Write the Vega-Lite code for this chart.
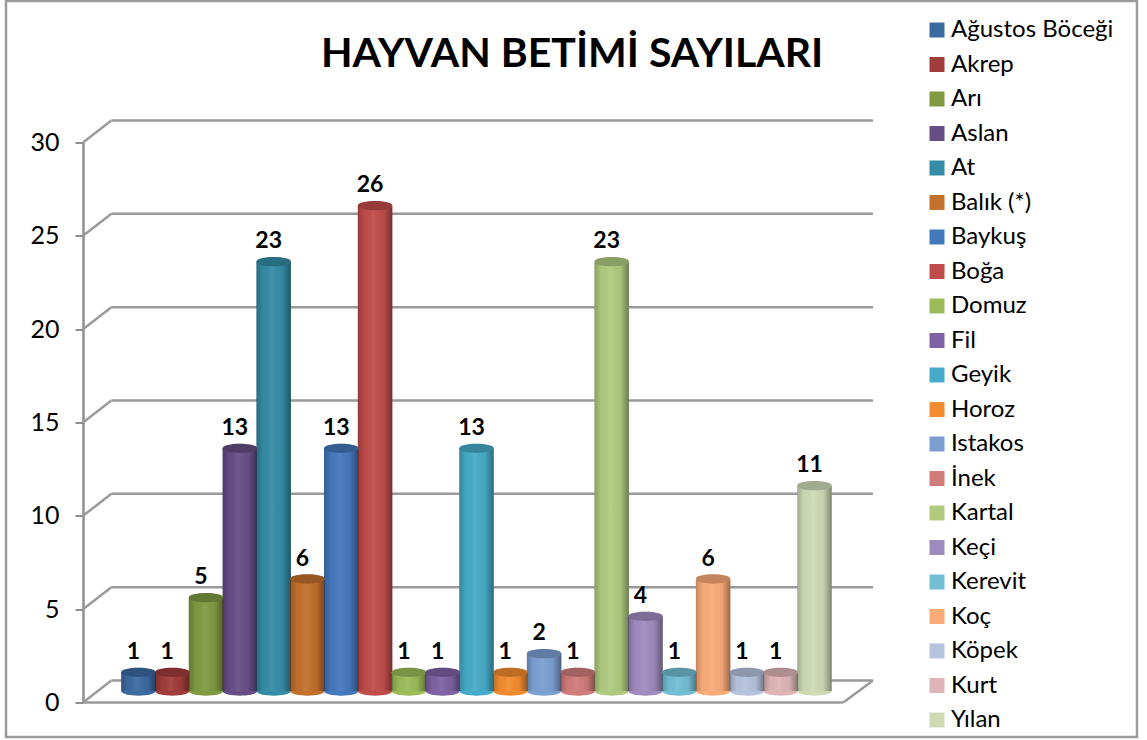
{
"$schema":"https://vega.github.io/schema/vega-lite/v6.json",
"width":790,"height":560,
"autosize":{"type":"none"},
"padding":{"left":83,"top":142.5,"right":274,"bottom":37.5},
"background":"white",
"config":{"view":{"stroke":null},"font":"Lato"},
"title":{"text":"HAYVAN BETİMİ SAYILARI","font":"Lato","fontSize":41,"fontWeight":"bold","color":"#000000","anchor":"start","frame":"group","dx":238,"offset":-108,"baseline":"alphabetic"},
"datasets":{
"animals":[
{"name":"Ağustos Böceği","order":1,"count":1},
{"name":"Akrep","order":2,"count":1},
{"name":"Arı","order":3,"count":5},
{"name":"Aslan","order":4,"count":13},
{"name":"At","order":5,"count":23},
{"name":"Balık (*)","order":6,"count":6},
{"name":"Baykuş","order":7,"count":13},
{"name":"Boğa","order":8,"count":26},
{"name":"Domuz","order":9,"count":1},
{"name":"Fil","order":10,"count":1},
{"name":"Geyik","order":11,"count":13},
{"name":"Horoz","order":12,"count":1},
{"name":"Istakos","order":13,"count":2},
{"name":"İnek","order":14,"count":1},
{"name":"Kartal","order":15,"count":23},
{"name":"Keçi","order":16,"count":4},
{"name":"Kerevit","order":17,"count":1},
{"name":"Koç","order":18,"count":6},
{"name":"Köpek","order":19,"count":1},
{"name":"Kurt","order":20,"count":1},
{"name":"Yılan","order":21,"count":11}
],
"levels":[{"level":0},{"level":5},{"level":10},{"level":15},{"level":20},{"level":25},{"level":30}],
"floor":[{"level":0}]
},
"data":{"name":"animals"},
"layer":[
{"data":{"name":"floor"},
 "mark":{"type":"rect","fillOpacity":0,"stroke":"#9a9a9a","strokeWidth":2.5,"clip":false},
 "encoding":{"x":{"value":-77},"x2":{"value":1054},"y":{"value":-141.5},"y2":{"value":594.5}}},
{"data":{"name":"levels"},
 "mark":{"type":"rule","color":"#9a9a9a","strokeWidth":2.5,"yOffset":-22},
 "encoding":{
  "y":{"field":"level","type":"quantitative","scale":{"domain":[0,30],"nice":false,"padding":0},
   "axis":{"values":[0,5,10,15,20,25,30],"title":null,"grid":false,"domainColor":"#8f8f8f","domainWidth":2.5,"tickColor":"#8f8f8f","tickWidth":2,"tickSize":8,"labelFont":"Lato","labelFontSize":25,"labelColor":"#000000","labelPadding":16}},
  "x":{"datum":0.2,"type":"quantitative","scale":{"domain":[-0.64,22.73],"nice":false,"zero":false,"padding":0},"axis":null},
  "x2":{"datum":22.73}}},
{"data":{"name":"levels"},
 "mark":{"type":"rule","color":"#9a9a9a","strokeWidth":2.5,"y2Offset":-22},
 "encoding":{
  "y":{"field":"level","type":"quantitative"},"y2":{"field":"level"},
  "x":{"datum":-0.64,"type":"quantitative"},"x2":{"datum":0.2}}},
{"data":{"name":"floor"},
 "mark":{"type":"rule","color":"#9a9a9a","strokeWidth":2.5},
 "encoding":{"y":{"field":"level","type":"quantitative"},"x":{"datum":-0.64,"type":"quantitative"},"x2":{"datum":21.85}}},
{"data":{"name":"floor"},
 "mark":{"type":"rule","color":"#9a9a9a","strokeWidth":2.5,"y2Offset":-22},
 "encoding":{"y":{"field":"level","type":"quantitative"},"y2":{"field":"level"},"x":{"datum":21.85,"type":"quantitative"},"x2":{"datum":22.73}}},
{"mark":{"type":"point","filled":true,"opacity":1,"size":1190,"shape":"M-1,0 C-1,-0.36 1,-0.36 1,0 C1,0.36 -1,0.36 -1,0 Z","yOffset":-11.5},
 "encoding":{"x":{"field":"order","type":"quantitative"},"y":{"datum":0,"type":"quantitative"},
  "color":{"field":"name","type":"nominal"}}},
{"mark":{"type":"bar","orient":"vertical","size":34.5,"yOffset":-11.5,"y2Offset":-11.5},
 "encoding":{"x":{"field":"order","type":"quantitative"},"y":{"field":"count","type":"quantitative"},"y2":{"datum":0},
  "color":{"field":"name","type":"nominal",
   "scale":{"domain":["Ağustos Böceği","Akrep","Arı","Aslan","At","Balık (*)","Baykuş","Boğa","Domuz","Fil","Geyik","Horoz","Istakos","İnek","Kartal","Keçi","Kerevit","Koç","Köpek","Kurt","Yılan"],
    "range":["#3B6AA0","#A03C3A","#7F9A41","#664E85","#348CA5","#C2702C","#4478BC","#C04C4A","#9ABB58","#7E62A3","#46ABC8","#F38C2E","#7C9FD2","#D07C7A","#B0CB80","#9F8ABF","#72BED4","#FAAB78","#B6C3DE","#DEB5B7","#CEDAB6"]},
   "legend":{"orient":"none","legendX":842,"legendY":-124.5,"title":null,"padding":0,"symbolType":"square","symbolSize":225,"symbolStrokeWidth":0,"symbolOpacity":1,"labelFont":"Lato","labelFontSize":24,"labelColor":"#000000","labelOffset":2,"rowPadding":10.5,"columns":1,"labelLimit":220}}}},
{"mark":{"type":"bar","orient":"vertical","size":34.5,"yOffset":-11.5,"y2Offset":-11.5,
  "color":{"x1":0,"y1":0,"x2":1,"y2":0,"gradient":"linear","stops":[
   {"offset":0,"color":"rgba(0,0,0,0.22)"},
   {"offset":0.2,"color":"rgba(0,0,0,0.02)"},
   {"offset":0.45,"color":"rgba(255,255,255,0.07)"},
   {"offset":0.75,"color":"rgba(0,0,0,0.04)"},
   {"offset":1,"color":"rgba(0,0,0,0.38)"}]}},
 "encoding":{"x":{"field":"order","type":"quantitative"},"y":{"field":"count","type":"quantitative"},"y2":{"datum":0}}},
{"mark":{"type":"point","filled":true,"opacity":1,"size":1190,"shape":"M-1,0 C-1,-0.36 1,-0.36 1,0 C1,0.36 -1,0.36 -1,0 Z","yOffset":-11.5},
 "encoding":{"x":{"field":"order","type":"quantitative"},"y":{"field":"count","type":"quantitative"},
  "color":{"field":"name","type":"nominal"}}},
{"mark":{"type":"point","filled":true,"color":"#000000","opacity":0.22,"size":1190,"shape":"M-1,0 C-1,-0.36 1,-0.36 1,0 C1,0.36 -1,0.36 -1,0 Z","yOffset":-11.5},
 "encoding":{"x":{"field":"order","type":"quantitative"},"y":{"field":"count","type":"quantitative"}}},
{"mark":{"type":"text","font":"Lato","fontWeight":"bold","fontSize":23,"color":"#000000","baseline":"alphabetic","xOffset":-5,"yOffset":-25},
 "encoding":{"x":{"field":"order","type":"quantitative"},"y":{"field":"count","type":"quantitative"},"text":{"field":"count","type":"quantitative"}}}
]
}
